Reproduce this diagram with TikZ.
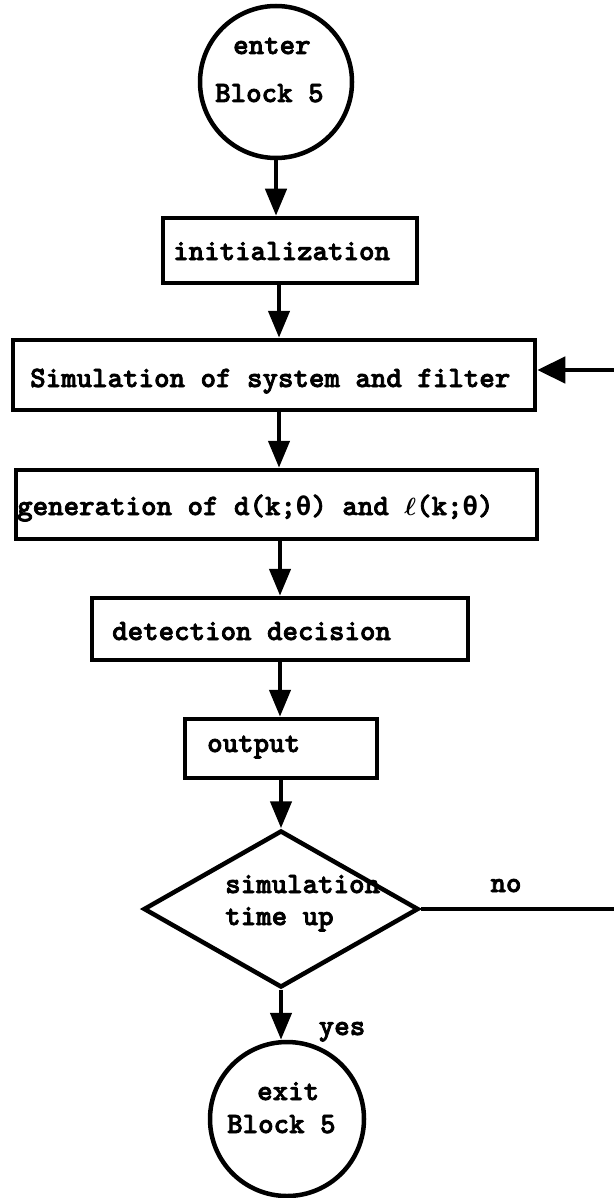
\documentclass[tikz,border=0pt]{standalone}
\usepackage{amsmath}
\usepackage{fontspec}
\usetikzlibrary{arrows.meta,shapes.geometric}
\newfontfamily\twfont{lmmonolt10-bold.otf}[FakeBold=2.5]
\newfontfamily\grkfont{DejaVu Sans Mono Bold}[Scale=0.87]
\newcommand\tw{\twfont\fontsize{29.5}{32}\selectfont}
\newcommand\thet{{\grkfont θ}}
\newcommand\ellc{$\boldsymbol{\ell}$}
\begin{document}
\begin{tikzpicture}[x=1pt,y=-1pt,
  box/.style={draw,line width=4.5pt,rectangle,inner sep=0pt},
  circ/.style={draw,line width=4.5pt,circle,inner sep=0pt},
  decis/.style={draw,line width=4.5pt,diamond,inner sep=0pt},
  txt/.style={font=\tw,inner sep=0pt,anchor=base west},
  arr/.style={line width=4.5pt,-{Triangle[length=27pt,width=21pt]}},
  fbarr/.style={line width=4.5pt,-{Triangle[length=28pt,width=26pt]}}]
\useasboundingbox (0,0) rectangle (613,1198);
\fill[white] (0,0) rectangle (613,1198);
\coordinate (axis) at (279,0);
\coordinate (fb) at (650,0);
% nodes
\node[circ,minimum size=152pt] (enter) at (276,82) {};
\node[txt] (tenter) at (233,54) {enter};
\node[txt] (tblock1) at (215,102) {Block 5};
\node[box,minimum width=254pt,minimum height=65pt] (init) at (290,250.5) {};
\node[txt] (tinit) at (173,260) {initialization};
\node[box,minimum width=522pt,minimum height=70pt] (sim) at (274,375) {};
\node[txt] (tsim) at (30,387) {Simulation of system and filter};
\node[box,minimum width=521pt,minimum height=69pt] (gen) at (276.5,504.5) {};
\node[txt] (tgen) at (17,515) {generation of d(k;\thet) and \ellc(k;\thet)};
\node[box,minimum width=376pt,minimum height=62pt] (det) at (280,629) {};
\node[txt] (tdet) at (112,640) {detection decision};
\node[box,minimum width=192pt,minimum height=59pt] (out) at (281,748.5) {};
\node[txt] (tout) at (207,752) {output};
\node[decis,minimum width=275pt,minimum height=157pt] (test) at (281,909) {};
\node[txt] (tsim2) at (225,893) {simulation};
\node[txt] (ttime) at (225,925) {time up};
\node[circ,minimum size=154pt] (exit) at (287,1119) {};
\node[txt] (texit) at (257,1100) {exit};
\node[txt] (tblock2) at (227,1133) {Block 5};
\node[txt,anchor=base] (no) at (506,892) {no};
\node[txt,anchor=base] (yes) at (342,1035) {yes};
% connectors
\draw[arr] (enter.south) -- (enter.south |- init.north);
\draw[arr] (init.south -| axis) -- (sim.north -| axis);
\draw[arr] (sim.south -| axis) -- (gen.north -| axis);
\draw[arr] (gen.south -| det.north) -- (det.north);
\draw[arr] (det.south) -- (out.north -| det.south);
\draw[arr] (out.south) -- (test.north);
\draw[arr] (test.south) -- (exit.north -| test.south);
\draw[fbarr] (test.east) -- (test.east -| fb) -- ([yshift=5pt]sim.east -| fb) -- ([yshift=5pt]sim.east);
\end{tikzpicture}
\end{document}
